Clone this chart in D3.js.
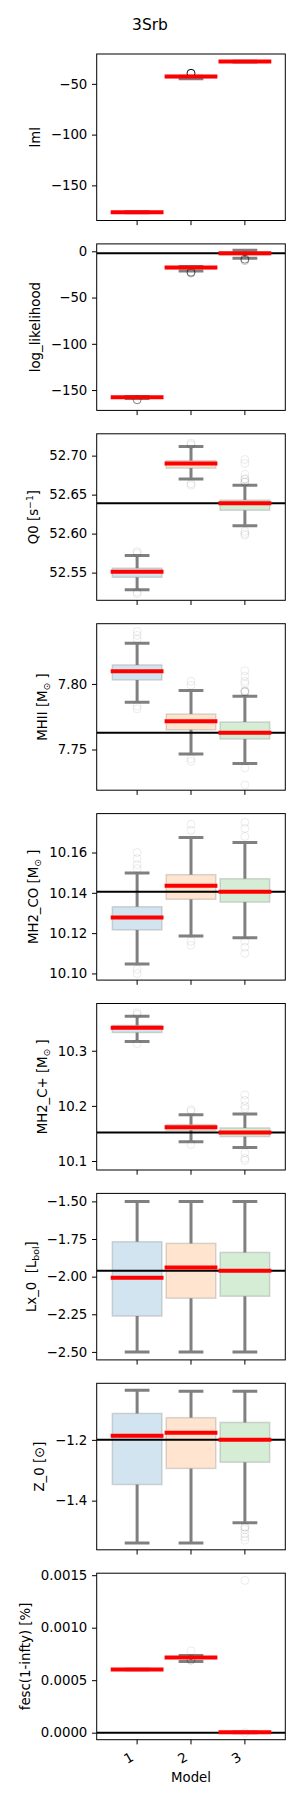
<!DOCTYPE html>
<html><head><meta charset="utf-8">
<script src="https://cdn.jsdelivr.net/npm/d3@7"></script>
<style>
body{margin:0;background:#fff}
svg{display:block}
text{font-family:"DejaVu Sans",sans-serif;fill:#000}
</style>
</head><body><div id="chart"></div>
<script>
// ---------------- data ----------------
const categories = ["1", "2", "3"];
const title = "3Srb";
const xLabel = "Model";
const boxColors = ["#1f77b4", "#ff7f0e", "#2ca02c"];

// y-axis labels as [text, role] segments (role: "", "sup", "sub")
const yLabels = [
  [["lml", ""]],
  [["log_likelihood", ""]],
  [["Q0 [s", ""], ["\u22121", "sup"], ["]", ""]],
  [["MHII [M", ""], ["\u2299", "sub"], [" ]", ""]],
  [["MH2_CO [M", ""], ["\u2299", "sub"], [" ]", ""]],
  [["MH2_C+ [M", ""], ["\u2299", "sub"], [" ]", ""]],
  [["Lx_0  [L", ""], ["bol", "sub"], ["]", ""]],
  [["Z_0 [\u2299]", ""]],
  [["fesc(1-infty) [%]", ""]]
];

const yDomains = [
  [-184.6, -20.6],
  [-172, 8],
  [52.5145, 52.728],
  [7.719, 7.8459],
  [10.0967, 10.1793],
  [10.0837, 10.3857],
  [-2.553, -1.447],
  [-1.5617, -1.0139],
  [-0.0000669, 0.001519]
];

const yTicks = [
  [-150, -100, -50],
  [-150, -100, -50, 0],
  [52.55, 52.60, 52.65, 52.70],
  [7.75, 7.80],
  [10.10, 10.12, 10.14, 10.16],
  [10.1, 10.2, 10.3],
  [-2.50, -2.25, -2.00, -1.75, -1.50],
  [-1.4, -1.2],
  [0, 0.0005, 0.0010, 0.0015]
];
const yTickFormats = ["d", "d", ".2f", ".2f", ".2f", ".1f", ".2f", ".1f", ".4f"];

// black reference line (true value); null = none
const refValues = [null, -2.2, 52.639, 7.7628, 10.1405, 10.1517, -1.96, -1.2, 0];

// red line (median) per panel per model
const medians = [
  [-176.5, -42.8, -28.1],
  [-157.9, -17.4, -2.2],
  [52.551, 52.690, 52.639],
  [7.8096, 7.7716, 7.7628],
  [10.1277, 10.1435, 10.1405],
  [10.3416, 10.1613, 10.1517],
  [-2.0066, -1.94, -1.96],
  [-1.1868, -1.177, -1.2],
  [0.000601, 0.000716, 0.000003]
];
const q1s = [
  [-176.8, -44.0, -28.3],
  [-158.5, -19.0, -4.0],
  [52.544, 52.684, 52.630],
  [7.803, 7.765, 7.758],
  [10.1216, 10.1368, 10.1354],
  [10.333, 10.1556, 10.1443],
  [-2.262, -2.143, -2.130],
  [-1.347, -1.294, -1.2736],
  [0.000599, 0.000708, 0.000001]
];
const q3s = [
  [-176.2, -43.0, -27.9],
  [-157.5, -17.0, -1.0],
  [52.5557, 52.6936, 52.643],
  [7.8145, 7.777, 7.771],
  [10.1331, 10.149, 10.147],
  [10.346, 10.166, 10.160],
  [-1.768, -1.779, -1.839],
  [-1.113, -1.127, -1.1426],
  [0.000603, 0.000722, 0.000005]
];
const whiskLo = [
  [-177.0, -45.1, -28.4],
  [-159.2, -21.3, -7.6],
  [52.528, 52.670, 52.610],
  [7.786, 7.7465, 7.7394],
  [10.1047, 10.1186, 10.1177],
  [10.317, 10.135, 10.1245],
  [-2.5, -2.5, -2.5],
  [-1.539, -1.539, -1.473],
  [0.000599, 0.000678, 0.0]
];
const whiskHi = [
  [-176.0, -42.5, -27.8],
  [-157.0, -16.5, 1.1],
  [52.572, 52.7116, 52.662],
  [7.831, 7.795, 7.7906],
  [10.1498, 10.1675, 10.165],
  [10.3627, 10.1837, 10.1855],
  [-1.5, -1.5, -1.5],
  [-1.037, -1.040, -1.040],
  [0.000603, 0.000736, 0.000006]
];
// outliers: [value, count of overlapping points]
const outliers = [
  [[], [[-39.6, 40]], []],
  [[[-160.5, 8]], [[-22.5, 8], [-23.5, 4]], [[-8.5, 8], [-10.0, 3]]],
  [[[52.577, 1], [52.575, 1], [52.525, 1], [52.523, 1]],
   [[52.714, 1], [52.716, 1], [52.664, 1], [52.662, 1]],
   [[52.666, 2], [52.670, 2], [52.676, 1], [52.690, 1], [52.695, 1], [52.603, 1], [52.600, 1], [52.598, 1]]],
  [[[7.834, 1], [7.837, 1], [7.840, 1], [7.783, 1], [7.781, 1]],
   [[7.799, 1], [7.802, 1], [7.743, 1], [7.741, 1]],
   [[7.794, 3], [7.795, 1], [7.800, 1], [7.802, 1], [7.806, 1], [7.810, 1], [7.736, 1], [7.723, 1]]],
  [[[10.152, 1], [10.154, 1], [10.157, 1], [10.160, 1], [10.102, 1], [10.100, 1]],
   [[10.171, 1], [10.174, 1], [10.116, 1], [10.114, 1]],
   [[10.168, 1], [10.172, 1], [10.175, 1], [10.116, 1], [10.113, 1], [10.110, 1]]],
  [[[10.366, 1], [10.369, 1], [10.313, 1]],
   [[10.190, 1], [10.193, 1], [10.130, 1]],
   [[10.195, 1], [10.200, 1], [10.210, 1], [10.220, 1], [10.115, 1], [10.105, 1], [10.101, 1]]],
  [[], [], []],
  [[], [], [[-1.487, 2], [-1.495, 1], [-1.509, 1], [-1.520, 1], [-1.530, 1]]],
  [[], [[0.00078, 1], [0.00069, 2], [0.00070, 2]], [[0.00145, 1], [0.0, 1]]]
];

// ---------------- layout ----------------
const W = 300, Hfig = 1800;
const L = 96.7, R = 285.3;
const top0 = 54, stepY = 189.9, PH = 166.5;
const fs = 13.3;
const tickLen = 4.7, tickPad = 4.7;

const svg = d3.select("#chart").append("svg").attr("width", W).attr("height", Hfig);
svg.append("rect").attr("width", W).attr("height", Hfig).attr("fill", "#fff");

svg.append("text").attr("x", 150).attr("y", 30).attr("text-anchor", "middle")
  .attr("font-size", 15.5).text(title);

const x = d3.scaleBand().domain(categories).range([L, R]).paddingInner(0).paddingOuter(0.25);
const bw = x.bandwidth();
const cx = c => x(c) + bw / 2;

yLabels.forEach((lab, i) => {
  const top = top0 + i * stepY, bot = top + PH;
  const y = d3.scaleLinear().domain(yDomains[i]).range([bot, top]);
  const g = svg.append("g");
  const clipId = "clip" + i;
  svg.append("clipPath").attr("id", clipId).append("rect")
    .attr("x", L).attr("y", top).attr("width", R - L).attr("height", PH);
  const pg = g.append("g").attr("clip-path", `url(#${clipId})`);

  categories.forEach((c, k) => {
    const xc = cx(c);
    const yq3 = y(q3s[i][k]), yq1 = y(q1s[i][k]);
    pg.append("rect")
      .attr("x", xc - 0.46 * bw).attr("width", 0.92 * bw)
      .attr("y", yq3).attr("height", Math.max(0.5, yq1 - yq3))
      .attr("fill", boxColors[k]).attr("fill-opacity", 0.2)
      .attr("stroke", "#808080").attr("stroke-opacity", 0.3).attr("stroke-width", 1.5);
    pg.append("line").attr("x1", xc).attr("x2", xc)
      .attr("y1", yq3).attr("y2", y(whiskHi[i][k]))
      .attr("stroke", "#808080").attr("stroke-width", 3);
    pg.append("line").attr("x1", xc).attr("x2", xc)
      .attr("y1", yq1).attr("y2", y(whiskLo[i][k]))
      .attr("stroke", "#808080").attr("stroke-width", 3);
    [whiskHi[i][k], whiskLo[i][k]].forEach(v => {
      pg.append("line").attr("x1", xc - 0.23 * bw).attr("x2", xc + 0.23 * bw)
        .attr("y1", y(v)).attr("y2", y(v))
        .attr("stroke", "#808080").attr("stroke-width", 3);
    });
    outliers[i][k].forEach(([v, n]) => {
      pg.append("circle").attr("cx", xc).attr("cy", y(v)).attr("r", 4)
        .attr("fill", "none").attr("stroke", "#000").attr("stroke-width", 1)
        .attr("stroke-opacity", 1 - Math.pow(0.92, n));
    });
  });

  if (refValues[i] !== null) {
    pg.append("line").attr("x1", L).attr("x2", R)
      .attr("y1", y(refValues[i])).attr("y2", y(refValues[i]))
      .attr("stroke", "#000").attr("stroke-width", 2);
  }
  categories.forEach((c, k) => {
    const xc = cx(c);
    pg.append("line").attr("x1", xc - 0.49 * bw).attr("x2", xc + 0.49 * bw)
      .attr("y1", y(medians[i][k])).attr("y2", y(medians[i][k]))
      .attr("stroke", "#ff0000").attr("stroke-width", 4);
  });

  const ax = g.append("g").attr("transform", `translate(${L},0)`)
    .call(d3.axisLeft(y).tickValues(yTicks[i]).tickFormat(d3.format(yTickFormats[i]))
      .tickSize(tickLen).tickPadding(tickPad));
  ax.select(".domain").remove();
  ax.selectAll("line").attr("stroke", "#000").attr("stroke-width", 1);
  ax.selectAll("text").attr("font-size", fs).attr("font-family", "DejaVu Sans").attr("fill", "#000");

  categories.forEach(c => {
    g.append("line").attr("x1", cx(c)).attr("x2", cx(c)).attr("y1", bot).attr("y2", bot + tickLen)
      .attr("stroke", "#000").attr("stroke-width", 1);
  });

  g.append("rect").attr("x", L).attr("y", top).attr("width", R - L).attr("height", PH)
    .attr("fill", "none").attr("stroke", "#000").attr("stroke-width", 1);

  let minX = Infinity;
  ax.selectAll("text").each(function () {
    const b = this.getBBox();
    minX = Math.min(minX, L + b.x);
  });
  const lx = minX - 11;
  const t = g.append("text").attr("transform", `translate(${lx},${(top + bot) / 2}) rotate(-90)`)
    .attr("text-anchor", "middle").attr("font-size", fs).style("white-space", "pre");
  let shift = 0;
  lab.forEach(([s, role]) => {
    const ts = t.append("tspan").text(s);
    let target = 0;
    if (role === "sup") { ts.attr("font-size", fs * 0.7); target = -5; }
    else if (role === "sub") { ts.attr("font-size", fs * 0.7); target = 3; }
    ts.attr("dy", target - shift);
    shift = target;
  });

  if (i === yLabels.length - 1) {
    categories.forEach(c => {
      g.append("text")
        .attr("transform", `translate(${cx(c) - 2.5},${bot + 20}) rotate(-30)`)
        .attr("text-anchor", "end").attr("font-size", fs).text(c);
    });
    g.append("text").attr("x", (L + R) / 2).attr("y", 1782)
      .attr("text-anchor", "middle").attr("font-size", fs).text(xLabel);
  }
});
</script>
</body></html>
